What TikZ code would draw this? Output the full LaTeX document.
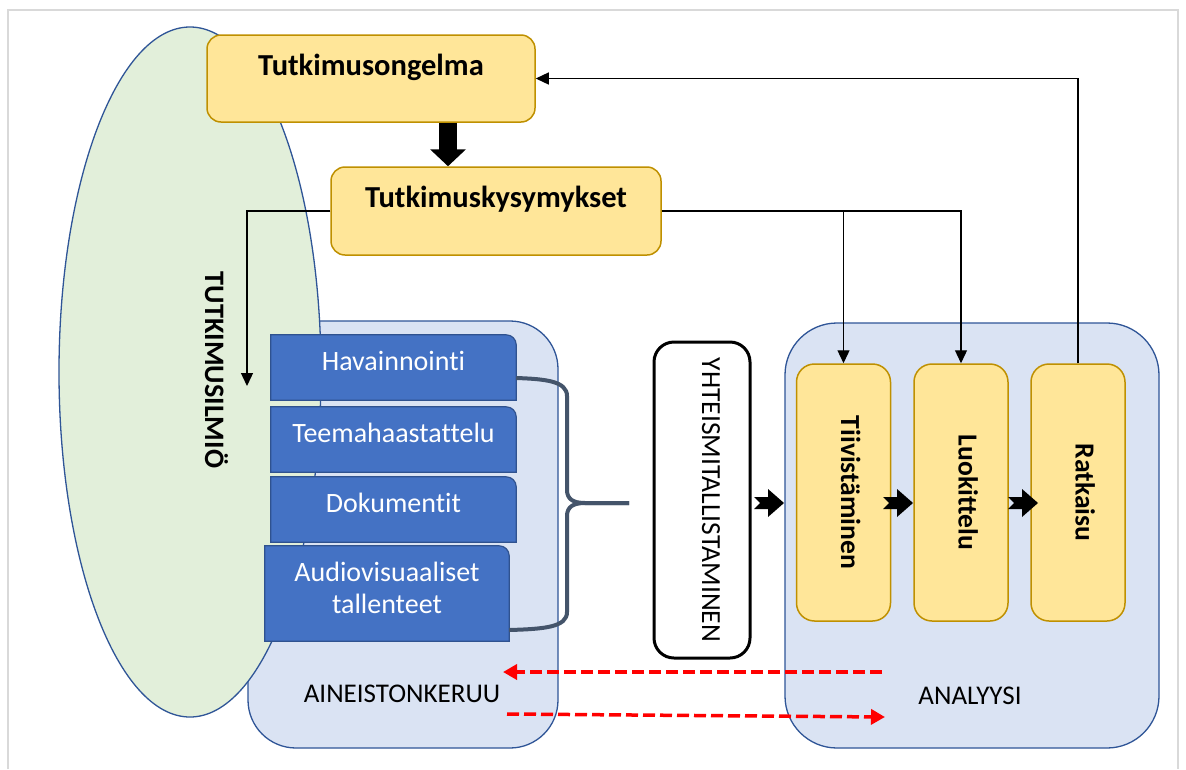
\documentclass[tikz,border=0pt]{standalone}
\usepackage{fontspec}
\setmainfont{Carlito}[Ligatures=NoCommon]
\usetikzlibrary{shapes.geometric,arrows.meta,calc}
\definecolor{stagefill}{HTML}{FFE699}
\definecolor{stageline}{HTML}{BF9000}
\definecolor{panelfill}{HTML}{DAE3F3}
\definecolor{panelline}{HTML}{2F5597}
\definecolor{methodfill}{HTML}{4472C4}
\definecolor{methodline}{HTML}{2F528F}
\definecolor{cloudfill}{HTML}{E2EFDA}
\definecolor{bracecol}{HTML}{44546A}
\definecolor{framecol}{HTML}{D9D9D9}
\pgfdeclarelayer{paper}
\pgfdeclarelayer{panels}
\pgfdeclarelayer{cloud}
\pgfdeclarelayer{boxfill}
\pgfsetlayers{paper,panels,cloud,boxfill,main}
% text set on a zero-height box, shifted relative to the node centre
\newcommand{\lifted}[2]{\raisebox{#1}[0pt][0pt]{#2}}
\tikzset{
  chevron/.pic={\fill (0,0) -- (-16,-14) -- (-16,-6) -- (-30,-6) -- (-24,0) -- (-30,6) -- (-16,6) -- (-16,14) -- cycle;}
}
\begin{document}
\begin{tikzpicture}[x=1pt,y=-1pt,
  txt/.style={font=\fontsize{27}{32}\selectfont},
  bold/.style={font=\fontsize{27.6}{32}\selectfont\bfseries},
  titlebold/.style={font=\fontsize{30.5}{36}\selectfont\bfseries},
  stage/.style={draw=stageline, fill=stagefill, line width=1.5pt, rounded corners=14pt, inner sep=0pt},
  tallstage/.style={stage, bold, rotate=-90, rounded corners=18pt, minimum width=257pt, minimum height=94pt},
  method/.style={font=\fontsize{28}{32}\selectfont, text=white, inner sep=0pt},
  methodshape/.style={fill=methodfill, draw=methodline, line width=1.2pt},
  panel/.style={draw=panelline, fill=panelfill, line width=1.3pt, rounded corners=48pt, inner sep=0pt},
  conn/.style={line width=1.3pt, -{Triangle[width=12pt,length=13pt]}},
  feedback/.style={draw=red, line width=3.5pt, dash pattern=on 12pt off 5pt, -{Triangle[width=15pt,length=14pt]}},
  bracestroke/.style={draw=bracecol, line width=4pt, line join=round},
]
\useasboundingbox (0,0) rectangle (1186,769);
\begin{pgfonlayer}{paper}
  \fill[white] (0,0) rectangle (1186,769);
  \draw[framecol, line width=2.5pt] (8,769) -- (8,10) -- (1178,10) -- (1178,769);
\end{pgfonlayer}

% background panels
\begin{pgfonlayer}{panels}
  \node[panel, minimum width=310pt, minimum height=427pt] (keruu) at (403,534.5) {};
  \node[panel, minimum width=374pt, minimum height=425pt, rounded corners=52pt] (analyysi) at (972,535.5) {};
\end{pgfonlayer}

% the phenomenon under study
\begin{pgfonlayer}{cloud}
  \node[ellipse, draw=panelline, fill=cloudfill, line width=1.3pt, minimum width=262pt, minimum height=690pt, inner sep=0pt] (cloud) at (190,372) {};
\end{pgfonlayer}
\node[font=\fontsize{28.2}{32}\selectfont\bfseries, rotate=-90, inner sep=0pt] (ilmio) at (215,370) {\lifted{-10pt}{TUTKIMUSILMIÖ}};

% research problem and questions
\node[stage, titlebold, minimum width=328pt, minimum height=87pt] (prob) at (371,78.5) {\lifted{3.5pt}{Tutkimusongelma}};
\node[stage, titlebold, minimum width=330pt, minimum height=88pt] (quest) at (496,211) {\lifted{4pt}{Tutkimuskysymykset}};

% data collection methods
\node[method, minimum width=245pt, minimum height=65pt] (hav) at (393.5,367.5) {\lifted{-2.5pt}{Havainnointi}};
\node[method, minimum width=245pt, minimum height=65pt] (teema) at (393.5,439.5) {\lifted{-2.5pt}{Teemahaastattelu}};
\node[method, minimum width=245pt, minimum height=65pt] (doku) at (393.5,509.5) {\lifted{-2.5pt}{Dokumentit}};
\node[method, minimum width=244pt, minimum height=95pt] (audio) at (387,593.5) {\lifted{-19.5pt}{\parbox[b]{220pt}{\centering Audiovisuaaliset\\tallenteet}}};
\begin{pgfonlayer}{boxfill}
  \foreach \m in {hav,teema,doku,audio}
    \draw[methodshape] (\m.south west) -- (\m.north west) -- ([xshift=-10pt]\m.north east)
      to[out=0,in=90] ([yshift=-10pt]\m.north east) -- (\m.south east) -- cycle;
\end{pgfonlayer}
\node[txt, inner sep=0pt] (keruulbl) at (402,692) {\lifted{-10pt}{AINEISTONKERUU}};

% grouping brace
\coordinate (bracetip) at (629,503);
\draw[bracestroke] ([yshift=-10.5pt]hav.east) .. controls (545,379) and (567,381) .. (567,396)
  -- (567,490) .. controls (567,499) and (573,503) .. (585,503) -- (bracetip);
\draw[bracestroke] ([yshift=-36.5pt]audio.east) .. controls (545,629) and (567,627) .. (567,612)
  -- (567,516) .. controls (567,507) and (573,503) .. (585,503) -- (bracetip);

% harmonisation step
\node[draw=black, fill=white, line width=3pt, rounded corners=20pt, rotate=-90, minimum width=316pt, minimum height=96pt, inner sep=0pt, font=\fontsize{27.6}{32}\selectfont] (yht) at (702,500) {\lifted{0pt}{YHTEISMITALLISTAMINEN}};

% analysis stages
\node[tallstage] (tii) at (843.5,492.5) {\lifted{-2.5pt}{Tiivistäminen}};
\node[tallstage] (luo) at (961,492.5) {\lifted{-2.5pt}{Luokittelu}};
\node[tallstage] (rat) at (1078,492.5) {\lifted{-2.5pt}{Ratkaisu}};
\node[txt, inner sep=0pt] (analyysilbl) at (970,696) {\lifted{-8pt}{ANALYYSI}};

\pic at (784,503) {chevron};
\pic at (913,503) {chevron};
\pic at (1038,503) {chevron};

% connectors
\coordinate (fatx) at (448,0);
\draw[line width=18pt, -{Triangle[width=35pt,length=17pt]}] (prob.south -| fatx) -- (quest.north -| fatx);
\coordinate (ilmioarrow) at (247,386);
\draw[conn] (quest.west) -| (ilmioarrow);
\draw[conn] (quest.east) -| (luo.west);
\draw[conn] (quest.east) -| (tii.west);
\draw[conn] (rat.west) |- (prob.east);

% iteration between collection and analysis
\coordinate (backfrom) at (882,672);
\coordinate (backto) at (503,672);
\draw[feedback] (backfrom) -- (backto);
\coordinate (forwfrom) at (507,714);
\coordinate (forwto) at (885,717);
\draw[feedback] (forwfrom) -- (forwto);
\end{tikzpicture}
\end{document}
